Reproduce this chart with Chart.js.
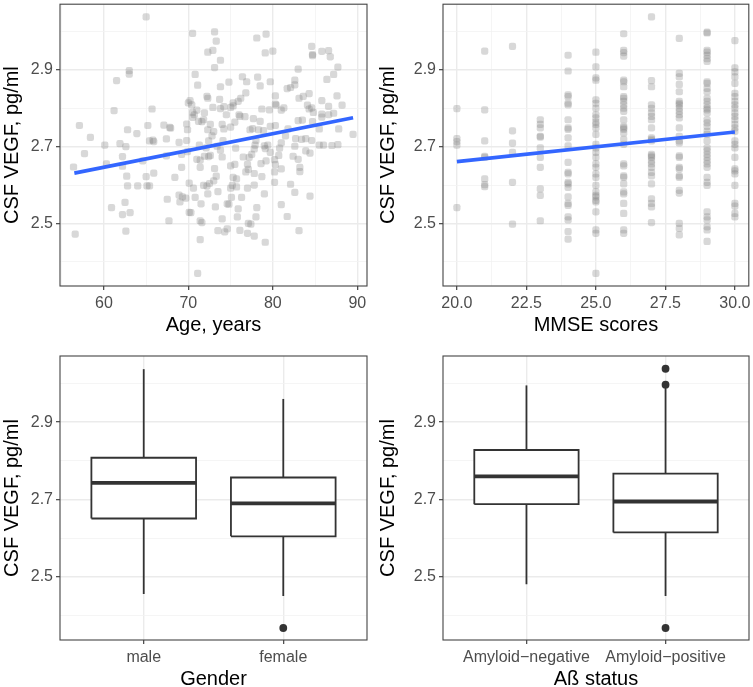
<!DOCTYPE html>
<html>
<head>
<meta charset="utf-8">
<script src="https://cdn.jsdelivr.net/npm/chart.js@4.4.1/dist/chart.umd.min.js"></script>
<style>
html,body{margin:0;padding:0;background:#fff;overflow:hidden;}
#wrap{position:relative;width:753px;height:687px;overflow:hidden;background:#fff;}
canvas{position:absolute;display:block;}
</style>
</head>
<body>
<div id="wrap">
<canvas id="c1" width="376" height="340" style="left:0;top:0;width:376px;height:340px"></canvas>
<canvas id="c2" width="377" height="340" style="left:376px;top:0;width:377px;height:340px"></canvas>
<canvas id="c3" width="376" height="350" style="left:0;top:340px;width:376px;height:350px"></canvas>
<canvas id="c4" width="377" height="350" style="left:376px;top:340px;width:377px;height:350px"></canvas>
</div>
<script>
// ---------------- DATA ----------------
const yTitle = 'CSF VEGF, pg/ml';
const yMin = 2.337, yMax = 3.071;
const yMajorTicks = [2.5, 2.7, 2.9];
const yTickLabels = ['2.5', '2.7', '2.9'];
const yMinorTicks = [2.4, 2.6, 2.8, 3.0];

const ageTitle = 'Age, years';
const ageMin = 54.8, ageMax = 91.15;
const ageMajorTicks = [60, 70, 80, 90];
const ageTickLabels = ['60', '70', '80', '90'];
const ageMinorTicks = [55, 65, 75, 85];

const ageYears = [65.0,70.5,73.1,73.3,72.9,72.3,73.8,73.1,78.1,79.2,80.0,79.1,84.6,84.7,84.7,85.8,86.6,86.8,87.7,87.2,
86.4,83.0,82.6,82.6,81.7,82.1,63.0,63.0,61.5,61.2,70.8,71.1,74.8,73.8,76.4,76.9,78.2,78.5,79.7,76.8,
76.2,75.9,75.3,73.7,74.2,72.9,72.2,72.3,70.2,70.4,70.0,70.5,71.0,70.5,70.7,65.7,69.8,69.9,71.8,71.6,
72.6,72.3,72.8,73.0,74.0,74.2,75.5,76.0,76.1,76.7,77.7,78.5,77.6,78.3,77.3,78.9,79.7,80.3,79.6,78.7,
80.3,80.3,80.4,81.0,81.3,81.5,83.1,83.6,84.3,84.1,84.3,84.6,84.8,85.8,85.8,86.6,88.2,87.6,85.8,84.7,
85.5,87.8,89.5,83.0,83.9,83.4,84.6,82.6,85.5,86.0,87.0,87.7,84.4,82.4,83.0,83.2,83.2,80.7,80.8,80.2,
80.3,80.2,80.2,81.0,82.1,82.6,84.4,81.0,81.7,83.1,79.4,79.1,79.7,79.2,78.6,78.0,77.9,77.8,77.2,76.5,
77.0,77.1,76.8,77.8,78.7,77.8,77.0,79.0,78.1,78.0,77.1,77.4,77.0,77.8,79.1,76.1,76.3,75.9,75.7,75.5,
75.6,75.3,75.2,75.0,75.0,74.6,74.8,74.6,74.3,74.0,74.0,73.8,74.1,73.4,73.1,73.3,73.0,73.5,73.2,73.5,
72.5,72.2,72.3,72.6,72.4,71.9,72.1,72.4,71.3,71.4,71.0,71.4,71.8,71.5,71.4,71.6,71.4,71.1,70.8,70.6,
70.1,69.9,69.7,70.1,70.3,69.2,69.2,68.9,69.0,69.3,68.9,68.4,67.9,67.8,67.1,67.4,67.4,67.5,67.7,65.8,
65.9,65.4,65.2,64.6,65.0,65.4,65.1,65.9,63.9,62.8,62.6,61.9,62.2,62.2,62.7,62.8,64.0,62.5,62.2,63.1,
62.6,60.9,60.1,60.3,58.4,57.7,57.1,56.4,56.6,75.0,74.5,75.0,75.3,73.8,71.9,71.2,69.8,75.7,75.1,75.8,
77.5,79.0,81.8,81.0,83.5,83.9,86.6,87.2,82.7];
const ageVegf = [3.038,2.995,2.999,2.975,2.951,2.946,2.925,2.906,2.983,2.993,2.949,2.944,2.961,2.940,2.937,2.948,2.950,2.934,2.907,2.888,
2.875,2.902,2.873,2.861,2.851,2.854,2.898,2.889,2.872,2.794,2.888,2.860,2.868,2.856,2.882,2.869,2.881,2.858,2.869,2.840,
2.826,2.818,2.814,2.823,2.804,2.802,2.831,2.826,2.820,2.809,2.814,2.789,2.795,2.776,2.783,2.798,2.759,2.744,2.770,2.765,
2.758,2.744,2.728,2.739,2.758,2.746,2.764,2.783,2.779,2.778,2.773,2.766,2.747,2.744,2.744,2.742,2.753,2.755,2.796,2.798,
2.832,2.811,2.808,2.795,2.801,2.728,2.826,2.831,2.838,2.808,2.798,2.801,2.789,2.820,2.785,2.783,2.808,2.832,2.777,2.765,
2.746,2.746,2.732,2.768,2.721,2.719,2.716,2.701,2.704,2.704,2.703,2.705,2.683,2.675,2.667,2.646,2.635,2.677,2.696,2.666,
2.653,2.634,2.607,2.642,2.602,2.581,2.571,2.549,2.518,2.481,2.704,2.695,2.685,2.663,2.656,2.716,2.704,2.694,2.672,2.673,
2.654,2.641,2.634,2.630,2.622,2.600,2.592,2.577,2.541,2.517,2.500,2.498,2.474,2.467,2.451,2.482,2.568,2.538,2.616,2.654,
2.696,2.620,2.599,2.592,2.650,2.551,2.550,2.486,2.478,2.512,2.673,2.691,2.716,2.701,2.643,2.623,2.611,2.583,2.543,2.481,
2.604,2.597,2.577,2.677,2.674,2.675,2.697,2.715,2.704,2.665,2.667,2.646,2.599,2.551,2.507,2.502,2.458,2.370,2.568,2.592,
2.605,2.687,2.566,2.529,2.528,2.680,2.646,2.574,2.556,2.569,2.711,2.620,2.748,2.750,2.756,2.720,2.676,2.563,2.507,2.717,
2.713,2.715,2.755,2.663,2.622,2.598,2.598,2.631,2.734,2.744,2.700,2.708,2.674,2.649,2.623,2.598,2.598,2.555,2.523,2.528,
2.480,2.541,2.704,2.655,2.724,2.682,2.755,2.647,2.472,2.751,2.783,2.802,2.806,2.799,2.788,2.766,2.716,2.595,2.568,2.517,
2.680,2.702,2.746,2.710,2.769,2.689,2.805,2.787,2.721];
const ageFitX = [56.5, 89.5];
const ageFitY = [2.631, 2.775];

const mmseTitle = 'MMSE scores';
const mmseMin = 19.5, mmseMax = 30.5;
const mmseMajorTicks = [20, 22.5, 25, 27.5, 30];
const mmseTickLabels = ['20.0', '22.5', '25.0', '27.5', '30.0'];
const mmseMinorTicks = [21.25, 23.75, 26.25, 28.75];
const mmseScores = [20, 21, 22, 23, 24, 25, 26, 27, 28, 29, 30];
const mmseVegf = [
  [2.799,2.721,2.713,2.704,2.541],
  [2.949,2.796,2.715,2.675,2.672,2.616,2.601,2.596],
  [2.961,2.741,2.709,2.685,2.607,2.498],
  [2.770,2.758,2.749,2.727,2.725,2.697,2.672,2.646,2.590,2.573,2.507],
  [2.938,2.897,2.835,2.830,2.813,2.809,2.770,2.749,2.745,2.723,2.702,2.659,2.633,2.629,2.607,2.603,2.594,2.569,2.552,2.547,2.517,2.509,2.479,2.459],
  [2.946,2.908,2.879,2.873,2.822,2.813,2.800,2.783,2.775,2.764,2.758,2.749,2.732,2.706,2.697,2.685,2.672,2.655,2.646,2.629,2.620,2.599,2.582,2.573,2.569,2.560,2.556,2.530,2.483,2.474,2.370],
  [2.994,2.951,2.945,2.936,2.873,2.869,2.856,2.830,2.826,2.818,2.809,2.800,2.792,2.770,2.753,2.749,2.745,2.736,2.719,2.706,2.655,2.650,2.624,2.620,2.603,2.582,2.577,2.552,2.526,2.483,2.474],
  [3.038,2.872,2.856,2.809,2.800,2.788,2.779,2.770,2.749,2.723,2.719,2.715,2.680,2.676,2.672,2.663,2.655,2.646,2.633,2.624,2.603,2.564,2.552,2.543,2.502],
  [2.982,2.891,2.882,2.862,2.843,2.818,2.813,2.809,2.800,2.792,2.783,2.775,2.749,2.727,2.715,2.710,2.676,2.672,2.646,2.642,2.624,2.620,2.586,2.579,2.500,2.487,2.470],
  [2.998,2.996,2.951,2.946,2.938,2.929,2.922,2.869,2.865,2.852,2.843,2.826,2.818,2.809,2.800,2.796,2.788,2.770,2.762,2.753,2.740,2.732,2.715,2.697,2.689,2.680,2.672,2.663,2.655,2.646,2.620,2.607,2.599,2.530,2.517,2.509,2.491,2.483,2.453],
  [2.976,2.905,2.895,2.882,2.865,2.839,2.830,2.818,2.809,2.800,2.788,2.779,2.770,2.758,2.749,2.740,2.715,2.706,2.697,2.672,2.642,2.637,2.629,2.599,2.552,2.545,2.526,2.517]
];
const mmseFitX = [20, 30];
const mmseFitY = [2.661, 2.738];

const genderTitle = 'Gender';
const genderCats = ['male', 'female'];
const genderLow = [2.456, 2.451];
const genderQ1 = [2.651, 2.605];
const genderMed = [2.743, 2.690];
const genderQ3 = [2.808, 2.757];
const genderHigh = [3.037, 2.960];
const genderOutliers = [[], [2.368]];

const amyloidTitle = 'A\u00DF status';
const amyloidCats = ['Amyloid\u2212negative', 'Amyloid\u2212positive'];
const amyloidLow = [2.481, 2.451];
const amyloidQ1 = [2.688, 2.615];
const amyloidMed = [2.760, 2.695];
const amyloidQ3 = [2.828, 2.767];
const amyloidHigh = [2.995, 2.993];
const amyloidOutliers = [[], [3.038, 2.997, 2.368]];

// ---------------- STYLE / BUILD ----------------
const FONT = "'Liberation Sans', Arial, Helvetica, sans-serif";
Chart.defaults.font.family = FONT;
const TICK_COLOR = '#4D4D4D';
const near = (a, b) => Math.abs(a - b) < 1e-6;

function makeAxis(o) {
  const all = o.major.concat(o.minor).sort((a, b) => a - b);
  const isMajor = c => c.tick && o.major.some(m => near(m, c.tick.value));
  return {
    type: 'linear', position: o.pos, min: o.min, max: o.max,
    afterBuildTicks: s => { s.ticks = all.map(v => ({ value: v })); },
    afterFit: s => {
      if (o.pos === 'left') { s.width = o.size; s.paddingTop = 0; s.paddingBottom = 0; }
      else { s.height = o.size; s.paddingLeft = 0; s.paddingRight = 0; }
    },
    ticks: {
      autoSkip: false, maxRotation: 0, minRotation: 0, padding: o.tickPad,
      color: TICK_COLOR, font: { family: FONT, size: 16 },
      callback: v => { const i = o.major.findIndex(m => near(m, v)); return i >= 0 ? o.labels[i] : ''; }
    },
    grid: {
      drawTicks: true, tickLength: 4, tickWidth: 1.1,
      color: c => isMajor(c) ? '#EBEBEB' : '#F2F2F2',
      lineWidth: c => isMajor(c) ? 1.4 : 0.8,
      tickColor: c => isMajor(c) ? '#333333' : 'rgba(0,0,0,0)'
    },
    border: { display: false },
    title: { display: true, text: o.title, color: '#000000', font: { family: FONT, size: 20, lineHeight: 1 }, padding: o.titlePad }
  };
}

const panelBorder = {
  id: 'panelBorder',
  afterDatasetsDraw(chart) {
    const { ctx, chartArea: a } = chart;
    ctx.save();
    ctx.strokeStyle = '#444444';
    ctx.lineWidth = 1.1;
    ctx.strokeRect(a.left, a.top, a.right - a.left, a.bottom - a.top);
    ctx.restore();
  }
};

function baseOptions(xAxis, yAxis, pad) {
  return {
    responsive: false, animation: false, events: [],
    layout: { padding: pad },
    plugins: { legend: { display: false }, tooltip: { enabled: false } },
    scales: { x: xAxis, y: yAxis }
  };
}

function yAxisFor(size) {
  return makeAxis({ pos: 'left', min: yMin, max: yMax, major: yMajorTicks, labels: yTickLabels, minor: yMinorTicks,
    title: yTitle, size: size, tickPad: 3, titlePad: { top: 2, bottom: 0 } });
}

const pointStyle = {
  showLine: false, pointStyle: 'rectRounded', pointRadius: 4.2,
  pointBackgroundColor: 'rgba(127,127,127,0.3)', pointBorderWidth: 0, order: 2
};
const fitStyle = { borderColor: '#3366FF', borderWidth: 3.6, pointRadius: 0, fill: false, order: 0, borderCapStyle: 'butt' };

// Panel 1: Age
new Chart(document.getElementById('c1'), {
  type: 'line',
  data: { datasets: [
    Object.assign({ data: ageYears.map((x, i) => ({ x: x, y: ageVegf[i] })) }, pointStyle),
    Object.assign({ data: ageFitX.map((x, i) => ({ x: x, y: ageFitY[i] })) }, fitStyle)
  ] },
  options: baseOptions(
    makeAxis({ pos: 'bottom', min: ageMin, max: ageMax, major: ageMajorTicks, labels: ageTickLabels, minor: ageMinorTicks,
      title: ageTitle, size: 54, tickPad: 4, titlePad: { top: 0, bottom: 4.5 } }),
    yAxisFor(60), { top: 3, right: 9, left: 0, bottom: 0 }),
  plugins: [panelBorder]
});

// Panel 2: MMSE
const mmsePoints = [];
mmseScores.forEach((s, i) => mmseVegf[i].forEach(v => mmsePoints.push({ x: s, y: v })));
new Chart(document.getElementById('c2'), {
  type: 'line',
  data: { datasets: [
    Object.assign({ data: mmsePoints }, pointStyle),
    Object.assign({ data: mmseFitX.map((x, i) => ({ x: x, y: mmseFitY[i] })) }, fitStyle)
  ] },
  options: baseOptions(
    makeAxis({ pos: 'bottom', min: mmseMin, max: mmseMax, major: mmseMajorTicks, labels: mmseTickLabels, minor: mmseMinorTicks,
      title: mmseTitle, size: 54, tickPad: 4, titlePad: { top: 0, bottom: 4.5 } }),
    yAxisFor(67), { top: 3, right: 4, left: 0, bottom: 0 }),
  plugins: [panelBorder]
});

// Box plots
const BOX_HALF = 0.375;
const LINE_COL = '#333333';
function boxDatasets(cats, low, q1, med, q3, high, outl) {
  const ds = [];
  const seg = (pts, w, order) => ({ data: pts, borderColor: LINE_COL, borderWidth: w, pointRadius: 0, fill: false,
    order: order, borderJoinStyle: 'miter', borderCapStyle: 'butt' });
  cats.forEach((c, i) => {
    const x = i + 1;
    ds.push({ data: [{ x: x - BOX_HALF, y: q3[i] }, { x: x + BOX_HALF, y: q3[i] }], fill: { value: q1[i] },
      backgroundColor: '#FFFFFF', borderWidth: 0, borderColor: 'rgba(0,0,0,0)', pointRadius: 0, order: 10 });
    ds.push(seg([{ x: x, y: q3[i] }, { x: x, y: high[i] }], 1.8, 4));
    ds.push(seg([{ x: x, y: q1[i] }, { x: x, y: low[i] }], 1.8, 4));
    ds.push(seg([{ x: x - BOX_HALF, y: q1[i] }, { x: x + BOX_HALF, y: q1[i] }, { x: x + BOX_HALF, y: q3[i] },
      { x: x - BOX_HALF, y: q3[i] }, { x: x - BOX_HALF, y: q1[i] }], 1.8, 2));
    ds.push(seg([{ x: x - BOX_HALF, y: med[i] }, { x: x + BOX_HALF, y: med[i] }], 3.8, 1));
    if (outl[i].length) {
      ds.push({ data: outl[i].map(v => ({ x: x, y: v })), showLine: false, pointRadius: 3.9, pointStyle: 'circle',
        pointBackgroundColor: LINE_COL, pointBorderWidth: 0, order: 0 });
    }
  });
  return ds;
}

function boxChart(id, cats, title, stats, ySize, pad) {
  new Chart(document.getElementById(id), {
    type: 'line',
    data: { datasets: boxDatasets(cats, ...stats) },
    options: baseOptions(
      makeAxis({ pos: 'bottom', min: 0.4, max: cats.length + 0.6, major: cats.map((c, i) => i + 1), labels: cats, minor: [],
        title: title, size: 50, tickPad: 4, titlePad: { top: 0, bottom: 1 } }),
      yAxisFor(ySize), pad),
    plugins: [panelBorder]
  });
}

boxChart('c3', genderCats, genderTitle,
  [genderLow, genderQ1, genderMed, genderQ3, genderHigh, genderOutliers], 60, { top: 16, right: 9, left: 0, bottom: 0 });
boxChart('c4', amyloidCats, amyloidTitle,
  [amyloidLow, amyloidQ1, amyloidMed, amyloidQ3, amyloidHigh, amyloidOutliers], 67, { top: 16, right: 4, left: 0, bottom: 0 });
</script>
</body>
</html>
